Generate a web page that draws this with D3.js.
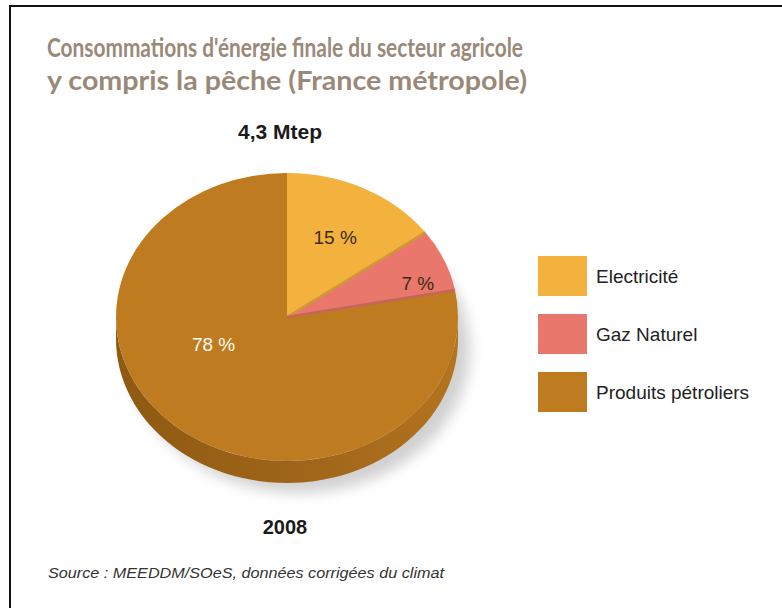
<!DOCTYPE html>
<html>
<head>
<meta charset="utf-8">
<script src="https://cdn.jsdelivr.net/npm/d3@7/dist/d3.min.js"></script>
<style>
  html, body { margin: 0; padding: 0; background: #fff; }
  svg { display: block; }
</style>
</head>
<body>
<svg id="chart"></svg>
<script>
(function (d3) {
    'use strict';

    // data
    var categories = ['Electricité', 'Gaz Naturel', 'Produits pétroliers'];
    var shares = [15, 7, 78];
    var shareLabels = ['15 %', '7 %', '78 %'];
    var titleLines = [
        'Consommations d\'énergie finale du secteur agricole',
        'y compris la pêche (France métropole)'
    ];
    var totalLabel = '4,3 Mtep';
    var yearLabel = '2008';
    var sourceText = 'Source : MEEDDM/SOeS, données corrigées du climat';

    var width = 782,
        height = 608;

    var pieGeo = { cx: 287, cy: 317, rx: 171, ry: 144, depth: 22 };
    var k = pieGeo.ry / pieGeo.rx;

    var sans = '"Liberation Sans", Arial, Helvetica, sans-serif';

    var color = d3.scaleOrdinal()
        .domain(categories)
        .range(['#F3B23E', '#E9776B', '#BF7B1F']);

    var labelColor = d3.scaleOrdinal()
        .domain(categories)
        .range(['#3b2a16', '#3b2a16', '#fffaf0']);

    // where each percentage sits: fraction along the slice, fraction of radius
    var labelAnchor = {
        'Electricité': { t: 0.5, r: 0.62 },
        'Gaz Naturel': { t: 0.75, r: 0.8 },
        'Produits pétroliers': { t: 0.594, r: 0.47 }
    };

    var data = categories.map(function (c, i) {
        return { category: c, value: shares[i], label: shareLabels[i] };
    });

    var svg = d3.select('#chart')
        .attr('width', width)
        .attr('height', height);

    var defs = svg.append('defs');
    defs.append('filter')
        .attr('id', 'blur')
        .attr('x', '-20%').attr('y', '-20%')
        .attr('width', '140%').attr('height', '140%')
        .append('feGaussianBlur')
        .attr('stdDeviation', 7);

    var sideGrad = defs.append('linearGradient')
        .attr('id', 'side')
        .attr('x1', '0%').attr('x2', '100%')
        .attr('y1', '0%').attr('y2', '0%');
    sideGrad.append('stop').attr('offset', '0%').attr('stop-color', '#8E5911');
    sideGrad.append('stop').attr('offset', '55%').attr('stop-color', '#A0651A');
    sideGrad.append('stop').attr('offset', '100%').attr('stop-color', '#B3741F');

    // frame (left and top rules)
    svg.append('line')
        .attr('x1', 10).attr('x2', 10)
        .attr('y1', 5).attr('y2', height)
        .attr('stroke', '#111').attr('stroke-width', 2);
    svg.append('line')
        .attr('x1', 9).attr('x2', width)
        .attr('y1', 6).attr('y2', 6)
        .attr('stroke', '#111').attr('stroke-width', 2);

    // title
    svg.append('g')
        .selectAll('text')
        .data(titleLines)
        .enter()
        .append('text')
        .attr('x', 47)
        .attr('y', function (d, i) { return 57 + i * 33; })
        .attr('textLength', function (d, i) { return i === 0 ? 476 : 480; })
        .attr('lengthAdjust', 'spacingAndGlyphs')
        .style('font-family', 'Lato, "Open Sans", sans-serif')
        .style('font-weight', 'bold')
        .style('font-size', '27px')
        .style('fill', '#9A8978')
        .text(function (d) { return d; });

    svg.append('text')
        .attr('x', 280)
        .attr('y', 139)
        .attr('text-anchor', 'middle')
        .style('font-family', sans)
        .style('font-weight', 'bold')
        .style('font-size', '21px')
        .style('fill', '#1a1a1a')
        .text(totalLabel);

    // pie
    var pie = d3.pie()
        .sort(null)
        .value(function (d) { return d.value; });
    var arcs = pie(data);

    var arc = d3.arc()
        .innerRadius(0)
        .outerRadius(pieGeo.rx);

    var g = svg.append('g')
        .attr('transform', 'translate(' + pieGeo.cx + ',' + pieGeo.cy + ')');

    // soft shadow
    g.append('ellipse')
        .attr('cx', 12)
        .attr('cy', pieGeo.depth + 10)
        .attr('rx', pieGeo.rx)
        .attr('ry', pieGeo.ry)
        .attr('fill', '#000')
        .attr('opacity', 0.18)
        .attr('filter', 'url(#blur)');

    // side walls (front half only)
    var ex = function (a) { return pieGeo.rx * Math.sin(a); },
        ey = function (a) { return -pieGeo.ry * Math.cos(a); };
    var sideLine = d3.line()
        .x(function (p) { return p[0]; })
        .y(function (p) { return p[1]; });

    g.append('g')
        .selectAll('path')
        .data(arcs.filter(function (d) {
            return d.endAngle > Math.PI / 2 && d.startAngle < 3 * Math.PI / 2;
        }))
        .enter()
        .append('path')
        .attr('d', function (d) {
            var a0 = Math.max(d.startAngle, Math.PI / 2),
                a1 = Math.min(d.endAngle, 3 * Math.PI / 2),
                steps = d3.range(0, 61).map(function (i) { return a0 + (a1 - a0) * i / 60; });
            var top = steps.map(function (a) { return [ex(a), ey(a)]; });
            var bottom = steps.slice().reverse().map(function (a) { return [ex(a), ey(a) + pieGeo.depth]; });
            return sideLine(top.concat(bottom)) + 'Z';
        })
        .attr('fill', function (d) {
            return d.data.category === 'Produits pétroliers' ? 'url(#side)' : d3.color(color(d.data.category)).darker(0.6);
        });

    // top faces
    g.append('g')
        .attr('transform', 'scale(1,' + k + ')')
        .selectAll('path')
        .data(arcs)
        .enter()
        .append('path')
        .attr('d', arc)
        .attr('fill', function (d) { return color(d.data.category); });

    // slice edges: closing edge of each slice, in its own darker tone
    g.append('g')
        .selectAll('line')
        .data(arcs.filter(function (d) { return d.endAngle < 2 * Math.PI - 1e-6; }))
        .enter()
        .append('line')
        .attr('x1', 0).attr('y1', 0)
        .attr('x2', function (d) { return ex(d.endAngle); })
        .attr('y2', function (d) { return ey(d.endAngle); })
        .attr('stroke', function (d) { return d3.color(color(d.data.category)).darker(0.45); })
        .attr('stroke-width', 2.5);

    // percentage labels
    g.append('g')
        .selectAll('text')
        .data(arcs)
        .enter()
        .append('text')
        .attr('transform', function (d) {
            var la = labelAnchor[d.data.category],
                a = d.startAngle + la.t * (d.endAngle - d.startAngle),
                r = la.r * pieGeo.rx;
            return 'translate(' + (r * Math.sin(a)) + ',' + (-r * Math.cos(a) * k) + ')';
        })
        .attr('text-anchor', 'middle')
        .attr('dy', '0.35em')
        .style('font-family', sans)
        .style('font-size', '19px')
        .style('fill', function (d) { return labelColor(d.data.category); })
        .text(function (d) { return d.data.label; });

    svg.append('text')
        .attr('x', 285)
        .attr('y', 534)
        .attr('text-anchor', 'middle')
        .style('font-family', sans)
        .style('font-weight', 'bold')
        .style('font-size', '20px')
        .style('fill', '#1a1a1a')
        .text(yearLabel);

    // legend
    var legendY = d3.scaleBand()
        .domain(categories)
        .range([256, 256 + 2 * 58 + 40])
        .paddingInner(18 / 58)
        .paddingOuter(0);

    var legend = svg.selectAll('.legend')
        .data(categories)
        .enter()
        .append('g')
        .attr('class', 'legend')
        .attr('transform', function (d) { return 'translate(538,' + legendY(d) + ')'; });

    legend.append('rect')
        .attr('width', 49)
        .attr('height', legendY.bandwidth())
        .attr('fill', function (d) { return color(d); });

    legend.append('text')
        .attr('x', 58)
        .attr('y', legendY.bandwidth() / 2)
        .attr('dy', '0.35em')
        .style('font-family', sans)
        .style('font-size', '19px')
        .style('fill', '#222')
        .text(function (d) { return d; });

    // source
    svg.append('text')
        .attr('x', 48)
        .attr('y', 578)
        .attr('textLength', 396)
        .attr('lengthAdjust', 'spacingAndGlyphs')
        .style('font-family', sans)
        .style('font-style', 'italic')
        .style('font-size', '15px')
        .style('fill', '#333')
        .text(sourceText);
})(window.d3);
</script>
</body>
</html>
